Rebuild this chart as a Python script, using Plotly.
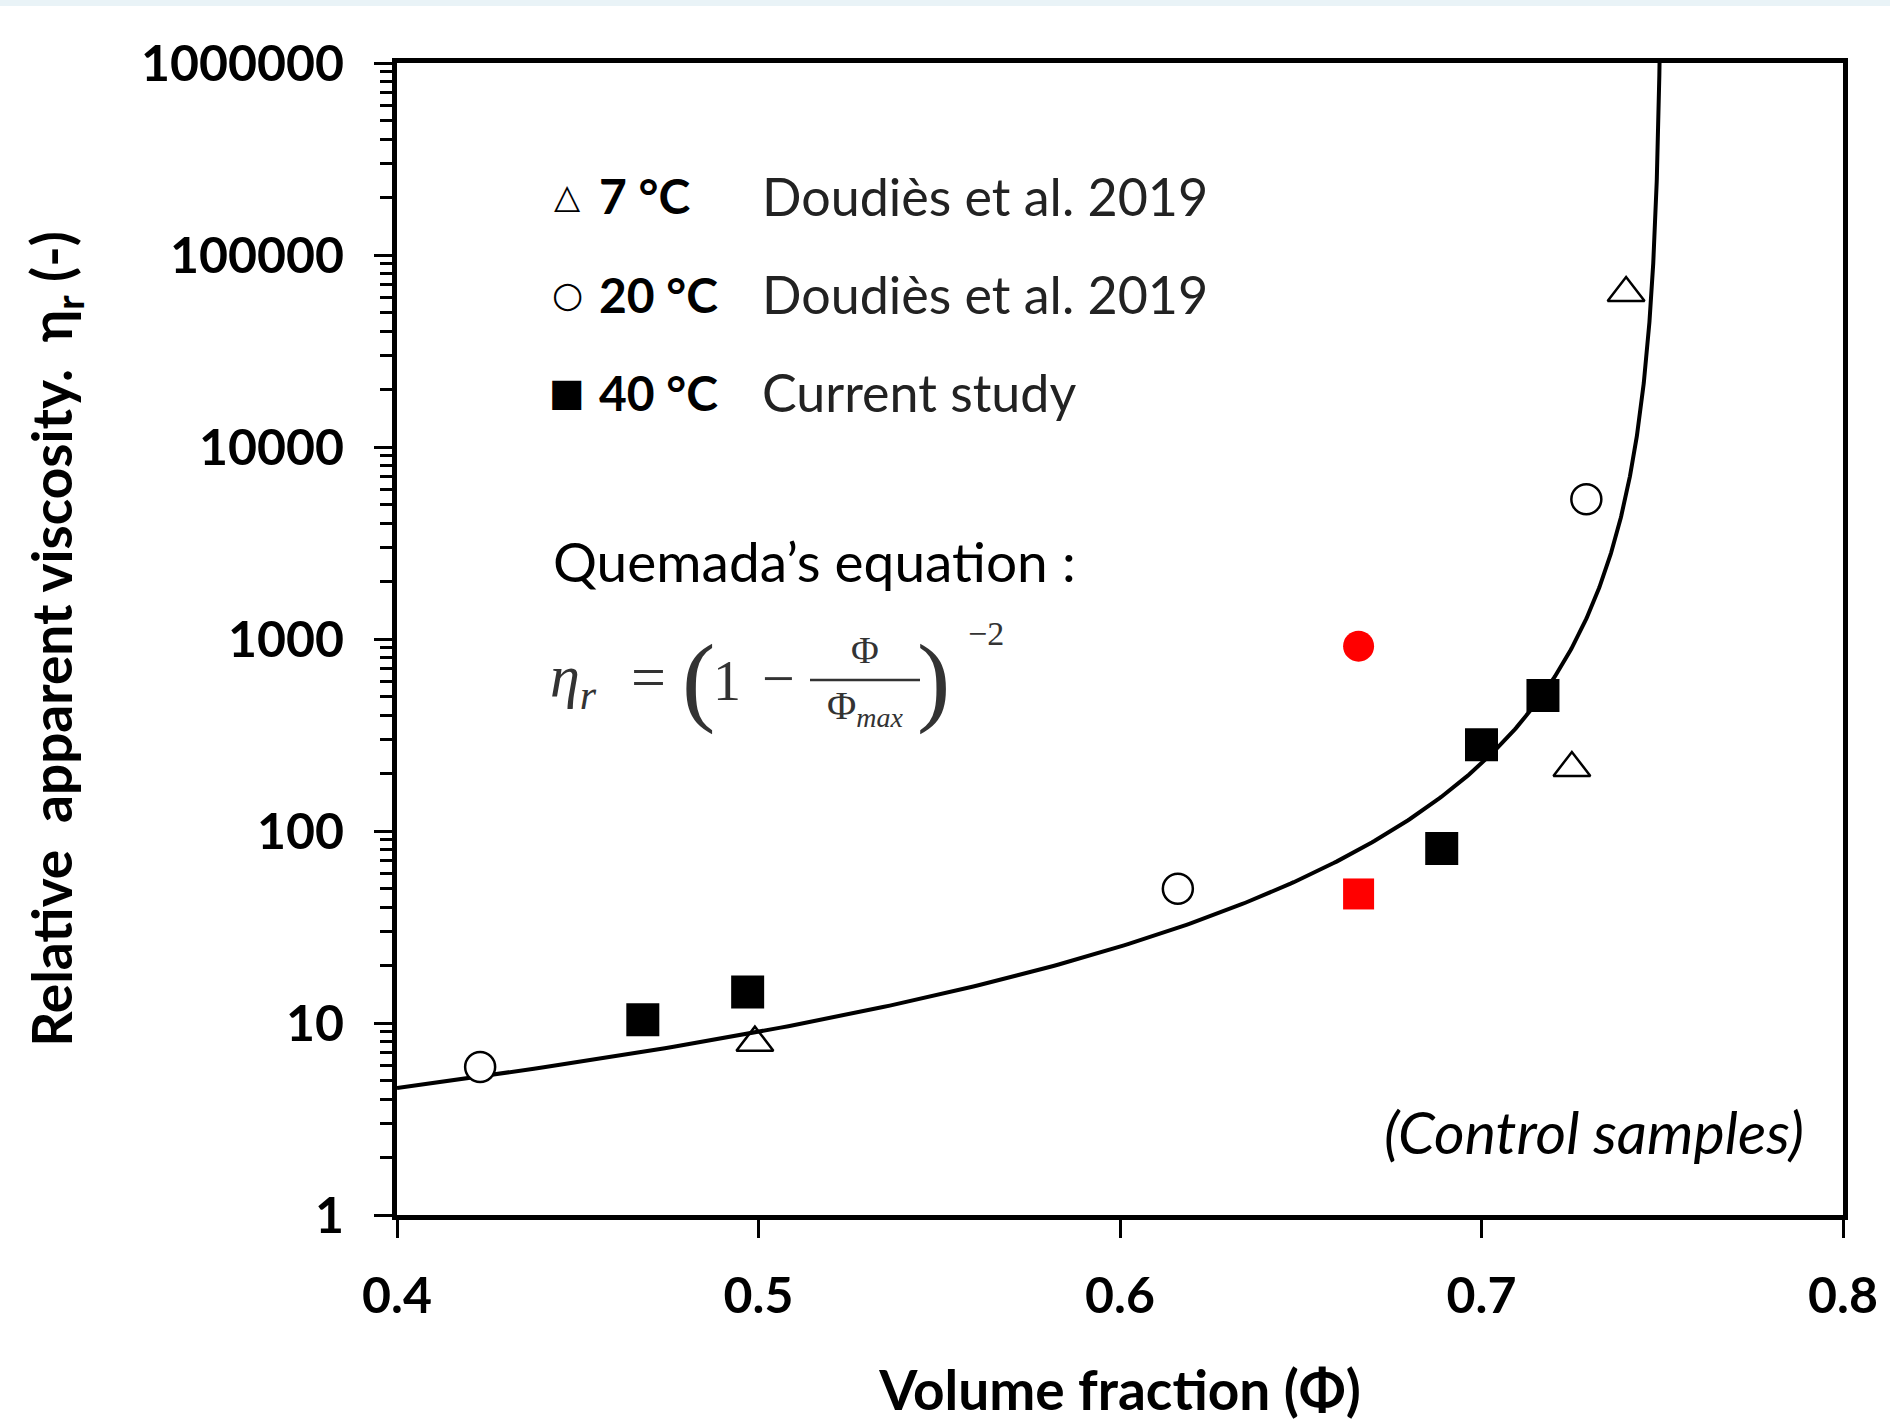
import numpy as np
import plotly.graph_objects as go

# ---------------- data ----------------
phi_7C = [0.499, 0.725, 0.740]
eta_7C = [7.9, 213, 63400]

phi_20C = [0.423, 0.616, 0.729]
eta_20C = [5.9, 50, 5350]

phi_40C = [0.468, 0.497, 0.689, 0.700, 0.717]
eta_40C = [10.4, 14.5, 81, 281, 508]

phi_red_square = [0.666]
eta_red_square = [47]
phi_red_circle = [0.666]
eta_red_circle = [918]

PHI_MAX = 0.75  # Quemada's maximum packing fraction

x_tickvals = [0.4, 0.5, 0.6, 0.7, 0.8]
x_ticktext = ["0.4", "0.5", "0.6", "0.7", "0.8"]
y_tickvals = [1, 10, 100, 1000, 10000, 100000, 1000000]
y_ticktext = ["1", "10", "100", "1000", "10000", "100000", "1000000"]

legend_temps = ["7 °C", "20 °C", "40 °C"]
legend_sources = ["Doudiès et al. 2019", "Doudiès et al. 2019", "Current study"]
legend_glyphs = ["△", "○", "■"]

# Quemada's equation curve
dist = np.geomspace(0.35, 0.00074, 700)
phi_curve = PHI_MAX - dist
eta_curve = (1 - phi_curve / PHI_MAX) ** -2

# ---------------- figure ----------------
W, H = 1890, 1422
L, R, T, B = 397, 1843, 63, 1215


def px(x):
    return (x - L) / (R - L)


def py(y):
    return (B - y) / (B - T)


fig = go.Figure()

fig.add_trace(go.Scatter(x=phi_curve, y=eta_curve, mode="lines",
                         line=dict(color="black", width=4),
                         name="Quemada", showlegend=False, hoverinfo="skip"))

fig.add_trace(go.Scatter(x=phi_7C, y=eta_7C, mode="markers", name="7 °C",
                         marker=dict(symbol="triangle-up-open", size=32, color="black",
                                     line=dict(width=2.5, color="black")),
                         showlegend=False))
fig.add_trace(go.Scatter(x=phi_20C, y=eta_20C, mode="markers", name="20 °C",
                         marker=dict(symbol="circle", size=30, color="white",
                                     line=dict(width=2.5, color="black")),
                         showlegend=False))
fig.add_trace(go.Scatter(x=phi_40C, y=eta_40C, mode="markers", name="40 °C",
                         marker=dict(symbol="square", size=33, color="black",
                                     line=dict(width=0)),
                         showlegend=False))
fig.add_trace(go.Scatter(x=phi_red_square, y=eta_red_square, mode="markers",
                         marker=dict(symbol="square", size=31, color="#ff0000",
                                     line=dict(width=0)),
                         showlegend=False))
fig.add_trace(go.Scatter(x=phi_red_circle, y=eta_red_circle, mode="markers",
                         marker=dict(symbol="circle", size=31, color="#ff0000",
                                     line=dict(width=0)),
                         showlegend=False))

FONT = "Lato"
annotations = []

# custom legend block
row_y = [196, 294, 392]
glyph_sizes = [34, 36, 38]
for glyph, gs, temp, src, yy in zip(legend_glyphs, glyph_sizes, legend_temps, legend_sources, row_y):
    annotations.append(dict(x=px(567), y=py(yy), xref="paper", yref="paper", text=glyph,
                            showarrow=False, xanchor="center", yanchor="middle",
                            font=dict(family="DejaVu Sans", size=gs, color="black")))
    annotations.append(dict(x=px(597), y=py(yy), xref="paper", yref="paper",
                            text="<b>" + temp + "</b>", showarrow=False,
                            xanchor="left", yanchor="middle",
                            font=dict(family=FONT, size=48, color="black")))
    annotations.append(dict(x=px(760), y=py(yy), xref="paper", yref="paper",
                            text=src, showarrow=False, xanchor="left", yanchor="middle",
                            font=dict(family=FONT, size=52, color="#222222")))

annotations.append(dict(x=px(551), y=py(561), xref="paper", yref="paper",
                        text="Quemada’s equation :", showarrow=False,
                        xanchor="left", yanchor="middle",
                        font=dict(family=FONT, size=55, color="black")))

EQC = "#333333"
eq_y = 681
eq_parts = [
    dict(x=px(548), y=py(eq_y), text="<i>η<sub>r</sub></i>", xanchor="left",
         font=dict(family="Liberation Serif", size=60, color=EQC)),
    dict(x=px(648), y=py(eq_y - 4), text="=", xanchor="center",
         font=dict(family="Liberation Serif", size=62, color=EQC)),
    dict(x=px(698), y=py(eq_y - 2), text="(", xanchor="center",
         font=dict(family="Liberation Serif", size=100, color=EQC)),
    dict(x=px(727), y=py(eq_y), text="1", xanchor="center",
         font=dict(family="Liberation Serif", size=56, color=EQC)),
    dict(x=px(778), y=py(eq_y - 3), text="−", xanchor="center",
         font=dict(family="Liberation Serif", size=58, color=EQC)),
    dict(x=px(865), y=py(650), text="Φ", xanchor="center",
         font=dict(family="Liberation Serif", size=38, color=EQC)),
    dict(x=px(865), y=py(708), text="Φ<i><sub>max</sub></i>", xanchor="center",
         font=dict(family="Liberation Serif", size=40, color=EQC)),
    dict(x=px(933), y=py(eq_y - 2), text=")", xanchor="center",
         font=dict(family="Liberation Serif", size=100, color=EQC)),
    dict(x=px(986), y=py(633), text="−2", xanchor="center",
         font=dict(family="Liberation Serif", size=34, color=EQC)),
]
for a in eq_parts:
    a.update(xref="paper", yref="paper", showarrow=False, yanchor="middle")
annotations += eq_parts

annotations.append(dict(x=px(1806), y=py(1131), xref="paper", yref="paper",
                        text="<i>(Control samples)</i>", showarrow=False,
                        xanchor="right", yanchor="middle",
                        font=dict(family=FONT, size=59, color="black")))

shapes = [
    dict(type="line", xref="paper", yref="paper", x0=px(810), x1=px(920),
         y0=py(680), y1=py(680), line=dict(color=EQC, width=2.5)),
    dict(type="rect", xref="paper", yref="paper", x0=px(0), x1=px(W),
         y0=py(6), y1=py(0), line=dict(width=0), fillcolor="#e9f3f7", layer="below"),
]

minor_y = [m * 10 ** d for d in range(6) for m in range(2, 10)]

fig.update_layout(
    width=W, height=H,
    margin=dict(l=L, r=W - R, t=T, b=H - B, pad=0),
    paper_bgcolor="white", plot_bgcolor="white",
    showlegend=False,
    annotations=annotations,
    shapes=shapes,
    font=dict(family=FONT, color="black"),
)

fig.update_xaxes(
    range=[0.4, 0.8], tickmode="array", tickvals=x_tickvals, ticktext=x_ticktext,
    ticks="outside", ticklen=18, tickwidth=3, tickcolor="black",
    showline=True, linewidth=5, linecolor="black", mirror=True,
    showgrid=False, zeroline=False, automargin=False,
    tickfont=dict(family=FONT, size=50, color="black", weight="bold"),
    ticklabelstandoff=15,
    title=dict(text="<b>Volume fraction (Φ)</b>", standoff=54,
               font=dict(family=FONT, size=55, color="black")),
)

fig.update_yaxes(
    type="log", range=[0, 6], tickmode="array", tickvals=y_tickvals, ticktext=y_ticktext,
    ticks="outside", ticklen=18, tickwidth=3, tickcolor="black",
    minor=dict(tickmode="array", tickvals=minor_y, ticks="outside", ticklen=12,
               tickwidth=2.5, tickcolor="black", showgrid=False),
    showline=True, linewidth=5, linecolor="black", mirror=True,
    showgrid=False, zeroline=False, automargin=False,
    tickfont=dict(family=FONT, size=50, color="black", weight="bold"),
    ticklabelstandoff=20,
    title=dict(text="<b>Relative  apparent viscosity.  η<sub>r</sub> (-)</b>", standoff=52,
               font=dict(family=FONT, size=55, color="black")),
)

fig.write_html("out.html", config={"displayModeBar": False},
               post_script="document.body.style.margin='0';document.body.style.overflow='hidden';")
